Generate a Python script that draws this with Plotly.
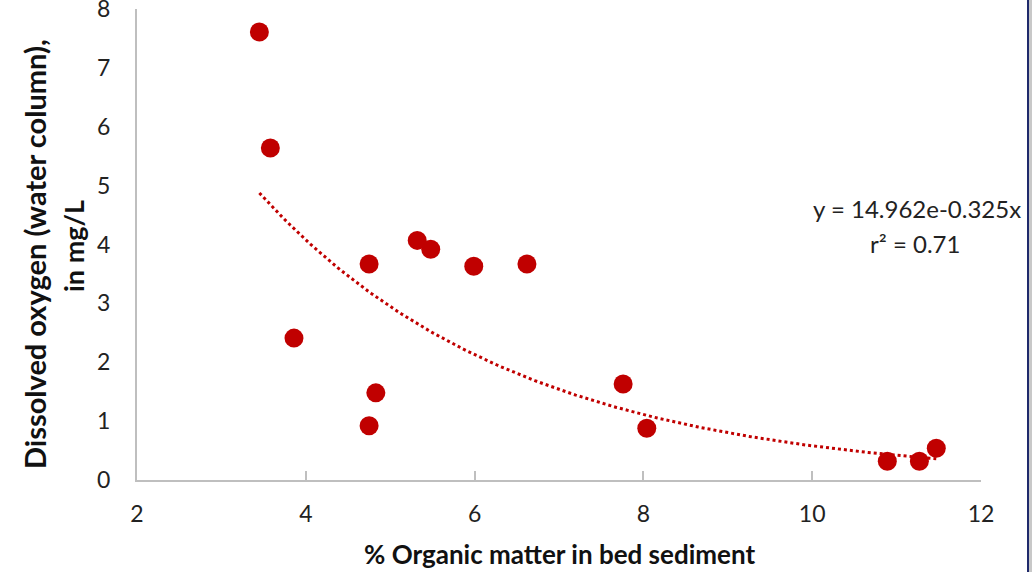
import numpy as np
import plotly.graph_objects as go

# Data
organic_pct = [3.45, 3.58, 3.86, 4.75, 4.75, 4.83, 5.32, 5.48, 5.99, 6.62, 7.76, 8.04, 10.89, 11.27, 11.47]
dissolved_o2 = [7.61, 5.64, 2.41, 3.67, 0.92, 1.48, 4.07, 3.92, 3.63, 3.67, 1.63, 0.88, 0.32, 0.32, 0.54]

fit_a = 14.962
fit_b = -0.325
x_ticks = [2, 4, 6, 8, 10, 12]
y_ticks = [0, 1, 2, 3, 4, 5, 6, 7, 8]

FONT = "Lato"
RED = "#C00000"

x_fit = np.linspace(min(organic_pct), max(organic_pct), 200)
y_fit = fit_a * np.exp(fit_b * x_fit)

fig = go.Figure()
fig.add_trace(go.Scatter(x=x_fit, y=y_fit, mode="lines",
                         line=dict(color=RED, width=3, dash="dot"),
                         hoverinfo="skip", showlegend=False))
fig.add_trace(go.Scatter(x=organic_pct, y=dissolved_o2, mode="markers",
                         marker=dict(color=RED, size=19, line=dict(width=0)),
                         showlegend=False))

W, H = 1032, 572
L, R, T, B = 137, 51, 9, 92
pw = W - L - R
ph = H - T - B

def px_to_paper_x(px):
    return (px - L) / pw

def py_to_paper_y(py):
    return (H - B - py) / ph

TXT = "#222222"
fig.update_layout(
    width=W, height=H,
    margin=dict(l=L, r=R, t=T, b=B, pad=0),
    paper_bgcolor="white", plot_bgcolor="white",
    font=dict(family=FONT, size=23, color=TXT),
    xaxis=dict(range=[2, 12], tickvals=x_ticks, showgrid=False, zeroline=False,
               showline=True, linecolor="#BFBFBF", linewidth=2, automargin=False,
               ticks="inside", ticklen=9, tickcolor="#BFBFBF", tickwidth=2,
               ticklabelstandoff=12, tickfont=dict(size=23, color=TXT)),
    yaxis=dict(range=[0, 8], tickvals=y_ticks, showgrid=False, zeroline=False,
               showline=True, linecolor="#BFBFBF", linewidth=2, automargin=False,
               ticks="", ticklabelstandoff=20, ticklabeloverflow="allow",
               tickfont=dict(size=23, color=TXT)),
    annotations=[
        dict(text="<b>% Organic matter in bed sediment</b>", xref="paper", yref="paper",
             x=px_to_paper_x(559), y=py_to_paper_y(554), showarrow=False,
             xanchor="center", yanchor="middle", font=dict(size=26, color="#111111")),
        dict(text="<b>Dissolved oxygen (water column),</b>", xref="paper", yref="paper",
             x=px_to_paper_x(34), y=py_to_paper_y(254), showarrow=False, textangle=-90,
             xanchor="center", yanchor="middle", font=dict(size=29, color="#111111")),
        dict(text="<b>in mg/L</b>", xref="paper", yref="paper",
             x=px_to_paper_x(73), y=py_to_paper_y(246), showarrow=False, textangle=-90,
             xanchor="center", yanchor="middle", font=dict(size=27, color="#111111")),
        dict(text=f"y = {fit_a}e{fit_b}x", xref="paper", yref="paper",
             x=px_to_paper_x(917), y=py_to_paper_y(208), showarrow=False,
             xanchor="center", yanchor="middle", font=dict(size=24, color=TXT)),
        dict(text="r² = 0.71", xref="paper", yref="paper",
             x=px_to_paper_x(915), y=py_to_paper_y(243), showarrow=False,
             xanchor="center", yanchor="middle", font=dict(size=24, color=TXT)),
    ],
    shapes=[
        dict(type="rect", xref="paper", yref="paper",
             x0=px_to_paper_x(1029), x1=px_to_paper_x(1032.5), y0=py_to_paper_y(573), y1=py_to_paper_y(-1),
             fillcolor="#C8C8C8", line=dict(width=0), layer="above"),
        dict(type="line", xref="paper", yref="paper",
             x0=px_to_paper_x(1028), x1=px_to_paper_x(1028), y0=py_to_paper_y(573), y1=py_to_paper_y(-1),
             line=dict(color="#1F2A6B", width=2), layer="above"),
    ],
)

fig.write_html("out.html")
